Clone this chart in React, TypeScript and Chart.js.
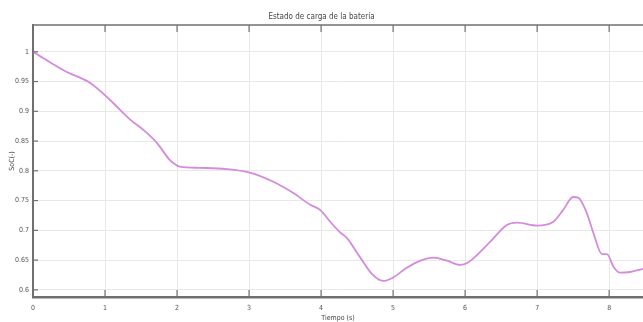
import React, { useEffect, useRef } from "react";
import { Chart, registerables } from "chart.js";

Chart.register(...registerables);

const timeS = [0, 0.2, 0.47, 0.79, 1.07, 1.35, 1.53, 1.72, 1.9, 1.95, 2.04, 2.32, 2.69, 3.01, 3.33, 3.61, 3.85, 3.99, 4.13, 4.26, 4.36, 4.54, 4.72, 4.86, 4.99, 5.19, 5.38, 5.56, 5.75, 5.93, 6.03, 6.17, 6.35, 6.58, 6.72, 7.0, 7.22, 7.36, 7.5, 7.57, 7.69, 7.78, 7.9, 7.97, 8.06, 8.15, 8.29, 8.46, 8.52];
const socValues = [1.0, 0.985, 0.966, 0.948, 0.919, 0.886, 0.869, 0.847, 0.818, 0.813, 0.807, 0.805, 0.803, 0.797, 0.782, 0.763, 0.743, 0.734, 0.714, 0.697, 0.687, 0.655, 0.625, 0.615, 0.62, 0.637, 0.649, 0.654, 0.649, 0.642, 0.645, 0.659, 0.681, 0.709, 0.713, 0.708, 0.714, 0.734, 0.756, 0.755, 0.729, 0.696, 0.66, 0.66, 0.639, 0.629, 0.63, 0.635, 0.636];
const xTickValues = [0, 1, 2, 3, 4, 5, 6, 7, 8];
const yTickValues = [0.6, 0.65, 0.7, 0.75, 0.8, 0.85, 0.9, 0.95, 1];

const titleText = "Estado de carga de la batería";
const xTitle = "Tiempo (s)";
const yTitle = "SoC(-)";

const FONT = "'Liberation Sans Narrow', 'DejaVu Sans Condensed', 'Liberation Sans', sans-serif";

const frame = {
  id: "frame",
  afterDraw(chart: any) {
    const { ctx, chartArea, scales } = chart;
    ctx.save();
    ctx.strokeStyle = "#707070";
    ctx.lineWidth = 1.5;
    ctx.beginPath();
    ctx.moveTo(chartArea.left, chartArea.top);
    ctx.lineTo(chartArea.right, chartArea.top);
    ctx.stroke();
    ctx.lineWidth = 1.2;
    xTickValues.forEach((v) => {
      const x = scales.x.getPixelForValue(v);
      ctx.beginPath();
      ctx.moveTo(x, chartArea.bottom);
      ctx.lineTo(x, chartArea.bottom - 7);
      ctx.moveTo(x, chartArea.top);
      ctx.lineTo(x, chartArea.top + 7);
      ctx.stroke();
    });
    yTickValues.forEach((v) => {
      const y = scales.y.getPixelForValue(v);
      ctx.beginPath();
      ctx.moveTo(chartArea.left, y);
      ctx.lineTo(chartArea.left + 5, y);
      ctx.stroke();
    });
    ctx.restore();
  },
};

export default function App() {
  const ref = useRef<HTMLCanvasElement | null>(null);
  useEffect(() => {
    if (!ref.current) return;
    const chart = new Chart(ref.current, {
      type: "line",
      data: {
        datasets: [
          {
            data: timeS.map((t, i) => ({ x: t, y: socValues[i] })),
            borderColor: "#d48add",
            borderWidth: 1.8,
            pointRadius: 0,
            cubicInterpolationMode: "monotone",
            fill: false,
          },
        ],
      },
      options: {
        animation: false,
        responsive: false,
        layout: { padding: { left: 0, right: 0, top: 0, bottom: 0 } },
        plugins: {
          legend: { display: false },
          tooltip: { enabled: false },
          title: {
            display: true,
            text: titleText,
            color: "#444",
            font: { family: FONT, size: 8, weight: "normal", lineHeight: 1 },
            padding: { top: 13, bottom: 4 },
          },
        },
        scales: {
          x: {
            type: "linear",
            min: 0,
            max: 8.47,
            afterBuildTicks: (s: any) => {
              s.ticks = xTickValues.map((v) => ({ value: v }));
            },
            afterFit: (s: any) => {
              s.height = 25;
            },
            ticks: {
              color: "#555",
              font: { family: FONT, size: 7 },
              padding: 7,
              maxRotation: 0,
              autoSkip: false,
              callback: (v: any) => String(v),
            },
            grid: { color: "#e8e8e8", lineWidth: 1, drawTicks: false },
            border: { color: "#707070", width: 2.5 },
            title: {
              display: true,
              text: xTitle,
              color: "#444",
              font: { family: FONT, size: 7 },
              padding: { top: 0, bottom: 0 },
            },
          },
          y: {
            type: "linear",
            min: 0.588,
            max: 1.045,
            afterBuildTicks: (s: any) => {
              s.ticks = yTickValues.map((v) => ({ value: v }));
            },
            afterFit: (s: any) => {
              s.width = 33;
            },
            ticks: {
              color: "#555",
              font: { family: FONT, size: 7 },
              padding: 4,
              autoSkip: false,
              callback: (v: any) => String(Math.round(v * 100) / 100),
            },
            grid: { color: "#e8e8e8", lineWidth: 1, drawTicks: false },
            border: { color: "#707070", width: 2 },
            title: {
              display: true,
              text: yTitle,
              color: "#444",
              font: { family: FONT, size: 7 },
              padding: { top: 8, bottom: 0 },
            },
          },
        },
      },
      plugins: [frame],
    } as any);
    return () => chart.destroy();
  }, []);
  return (
    <div style={{ position: "absolute", left: 0, top: 0, width: 643, height: 322, background: "#fff" }}>
      <canvas ref={ref} width={643} height={322} />
    </div>
  );
}
